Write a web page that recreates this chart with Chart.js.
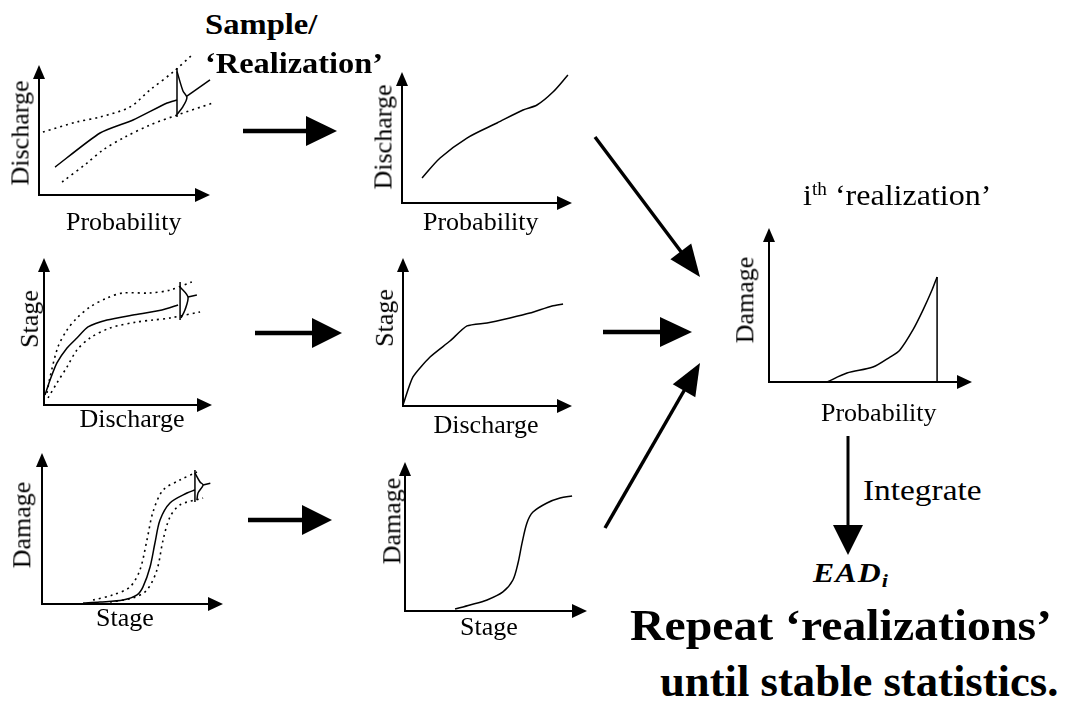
<!DOCTYPE html>
<html>
<head>
<meta charset="utf-8">
<script src="https://cdn.jsdelivr.net/npm/chart.js@4.4.1/dist/chart.umd.min.js"></script>
<style>
body { margin: 0; background: #fff; }
#page { position: relative; width: 1065px; height: 721px; overflow: hidden;
  font-family: "Liberation Serif", "Times New Roman", serif; color: #000; }
.t { position: absolute; white-space: nowrap; line-height: 1; transform-origin: 0 0; }
.ax { position: absolute; white-space: nowrap; line-height: 1; font-size: 26px; }
canvas { position: absolute; }
svg { position: absolute; left: 0; top: 0; }
</style>
</head>
<body>
<div id="page">
  <svg id="arrows" width="1065" height="721"></svg>
</div>
<script>
// curves, in percent of each little axis box (0,0 = origin, 100,100 = arrow tips)
const qpMid   = [[9.4,21.5],[35.7,47.7],[55,57.7],[74.9,70.8],[80.7,73.1]];
const qpUpper = [[2.3,48.5],[22.2,56.2],[35.7,60],[53.2,67.7],[64.9,80.8],[78.4,94.6],[89.5,107.7]];
const qpLower = [[13.5,10],[28.1,24.6],[37.4,34.6],[50.3,44.6],[64.9,53.8],[80.7,61.5],[101.8,70.8]];
const qpBar   = [[80.7,97.7],[80.7,60]];
const qpPdf   = [[80.7,95],[84.2,80],[86.5,75],[84.2,68],[80.7,62]];
const qpPick  = [[86.5,76],[100,88.5]];
const qpReal  = [[11.8,19.1],[22.4,34.4],[38.2,49.6],[55.9,61.1],[71.2,71],[79.4,74.8],[88.8,84.7],[97.6,97.7]];

const sqMid   = [[0.6,6.8],[3.6,17],[7.7,28.6],[13.7,38.8],[19.6,45.6],[26.2,53.1],[37.5,57.8],[53,61.2],[70.2,64.6],[79.8,68]];
const sqUpper = [[1.8,8.2],[3.6,19],[8.3,39.5],[13.7,51],[19.6,59.2],[27.4,66.7],[37.5,72.8],[47,76.2],[63,76.2],[75,78.2],[88,83.7]];
const sqLower = [[2.4,4.8],[7.7,15],[13.7,25.9],[19.6,37.4],[27.4,45.6],[39.3,52.4],[55.4,56.5],[64.9,57.8],[75,59.2],[92.9,63.3]];
const sqBar   = [[81,83.7],[81,57.8]];
const sqPdf   = [[81,80.3],[85.7,73.5],[83.9,64.6],[81.5,59.2]];
const sqPick  = [[85.7,73.5],[91,74.8]];
const sqReal  = [[0,0.7],[5.9,19.6],[16,33.1],[27.8,43.9],[37.9,54.1],[49.7,56.1],[63.3,59.5],[75.1,62.8],[88.2,67.6],[94.7,68.9]];

const dsMid   = [[22.7,0.7],[32,1.3],[44.8,2.6],[52.5,6],[55.8,11.3],[59.7,24.5],[62.4,40.4],[65.2,55.6],[70.7,66.9],[80.1,73.5],[84.5,75.5]];
const dsUpper = [[28.2,2.6],[39.2,6],[48.6,11.3],[54.1,22.5],[58,42.4],[61.3,60.9],[66.9,75.5],[76.2,82.1],[85.6,87.4]];
const dsLower = [[37.6,1.3],[50.3,4],[58,9.3],[63.5,22.5],[66.9,42.4],[70.7,57.6],[76.2,65.6],[89,70.2]];
const dsBar   = [[84.5,88.7],[84.5,67.5]];
const dsPdf   = [[84.5,86.8],[87.3,80.8],[89,78.8],[86.2,73.5],[85.6,68.9]];
const dsPick  = [[89,78.8],[93,80]];
const dsReal  = [[27.5,1.3],[35.7,4],[45.1,7.4],[53.8,12.8],[59.3,20.8],[62.1,32.2],[64.3,45.6],[67,59.1],[70.3,66.4],[78,72.5],[85.2,75.8],[91.8,77.2]];

const dpReal  = [[28.6,0],[38.4,5.8],[51.2,9.7],[59.6,16.2],[64.5,20.8],[70.9,33.8],[75.9,46.8],[80.3,59.7],[82.8,68.2]];
const dpEdge  = [[82.8,68.2],[82.8,0]];

const axisNames = ['Probability', 'Discharge', 'Stage', 'Damage'];

const page = document.getElementById('page');

// draws the two axes with filled arrow heads
const axisArrows = {
  id: 'axisArrows',
  beforeDatasetsDraw(chart) {
    const {ctx, chartArea: a} = chart;
    ctx.save();
    ctx.strokeStyle = '#000';
    ctx.fillStyle = '#000';
    ctx.lineWidth = 2;
    ctx.beginPath();
    ctx.moveTo(a.left, a.top + 12);
    ctx.lineTo(a.left, a.bottom);
    ctx.lineTo(a.right - 12, a.bottom);
    ctx.stroke();
    ctx.beginPath();
    ctx.moveTo(a.right - 15, a.bottom - 7);
    ctx.lineTo(a.right, a.bottom);
    ctx.lineTo(a.right - 15, a.bottom + 7);
    ctx.fill();
    ctx.beginPath();
    ctx.moveTo(a.left - 6, a.top + 14);
    ctx.lineTo(a.left, a.top);
    ctx.lineTo(a.left + 6, a.top + 14);
    ctx.fill();
    ctx.restore();
  }
};

function line(pts, dashed, tension) {
  return {
    data: pts.map(p => ({x: p[0], y: p[1]})),
    borderColor: '#000',
    borderWidth: dashed ? 1.6 : 1.5,
    borderDash: dashed ? [2, 4] : [],
    tension: tension === undefined ? 0.3 : tension,
    fill: false,
    clip: false,
    pointRadius: 0
  };
}

function miniChart(box, datasets) {
  const P = 24;
  const c = document.createElement('canvas');
  c.width = box.tipX - box.ox + 2 * P;
  c.height = box.oy - box.tipY + 2 * P;
  c.style.left = (box.ox - P) + 'px';
  c.style.top = (box.tipY - P) + 'px';
  page.appendChild(c);
  new Chart(c, {
    type: 'line',
    data: {datasets: datasets},
    options: {
      responsive: false,
      animation: false,
      layout: {padding: P},
      plugins: {legend: {display: false}, tooltip: {enabled: false}},
      scales: {
        x: {type: 'linear', min: 0, max: 100, display: false},
        y: {type: 'linear', min: 0, max: 100, display: false}
      }
    },
    plugins: [axisArrows]
  });
}

function axisLabel(text, cx, cy, rotate) {
  const el = document.createElement('div');
  el.className = 'ax';
  el.textContent = text;
  page.appendChild(el);
  const w = el.offsetWidth, h = el.offsetHeight;
  el.style.left = (cx - w / 2) + 'px';
  el.style.top = (cy - h / 2) + 'px';
  if (rotate) el.style.transform = 'rotate(-90deg)';
}

function text(html, left, baseline, size, style, width) {
  const el = document.createElement('div');
  el.className = 't';
  el.innerHTML = html;
  el.style.fontSize = size + 'px';
  if (style) el.style.cssText += style;
  page.appendChild(el);
  el.style.left = left + 'px';
  el.style.top = (baseline - 0.84 * size) + 'px';
  if (width) el.style.transform = 'scaleX(' + (width / el.offsetWidth) + ')';
}

// row 1: discharge-probability
miniChart({ox: 39, oy: 195, tipX: 210, tipY: 65}, [
  line(qpMid, false, 0.2), line(qpUpper, true), line(qpLower, true),
  line(qpBar, false, 0), line(qpPdf, false, 0.3), line(qpPick, false, 0)
]);
axisLabel(axisNames[1], 20, 133, true);
axisLabel(axisNames[0], 124, 222);

miniChart({ox: 402, oy: 203, tipX: 572, tipY: 72}, [line(qpReal, false, 0.3)]);
axisLabel(axisNames[1], 383, 137, true);
axisLabel(axisNames[0], 481, 222);

// row 2: stage-discharge
miniChart({ox: 44, oy: 405, tipX: 212, tipY: 258}, [
  line(sqMid, false, 0.2), line(sqUpper, true), line(sqLower, true),
  line(sqBar, false, 0), line(sqPdf, false, 0.3), line(sqPick, false, 0)
]);
axisLabel(axisNames[2], 30, 319, true);
axisLabel(axisNames[1], 132, 419);

miniChart({ox: 403, oy: 406, tipX: 572, tipY: 258}, [line(sqReal, false, 0.2)]);
axisLabel(axisNames[2], 385, 318, true);
axisLabel(axisNames[1], 486, 425);

// row 3: damage-stage
miniChart({ox: 42, oy: 604, tipX: 223, tipY: 453}, [
  line(dsMid, false, 0.3), line(dsUpper, true), line(dsLower, true),
  line(dsBar, false, 0), line(dsPdf, false, 0.3), line(dsPick, false, 0)
]);
axisLabel(axisNames[3], 22, 525, true);
axisLabel(axisNames[2], 125, 618);

miniChart({ox: 405, oy: 611, tipX: 587, tipY: 462}, [line(dsReal, false, 0.3)]);
axisLabel(axisNames[3], 392, 521, true);
axisLabel(axisNames[2], 489, 627);

// result: damage-probability
miniChart({ox: 769, oy: 382, tipX: 972, tipY: 228}, [line(dpReal, false, 0.3), line(dpEdge, false, 0)]);
axisLabel(axisNames[3], 745, 300, true);
axisLabel(axisNames[0], 879, 413);

// block arrows
const svg = document.getElementById('arrows');
function arrow(x1, y1, x2, y2, lw, len, half) {
  const dx = x2 - x1, dy = y2 - y1, d = Math.hypot(dx, dy);
  const ux = dx / d, uy = dy / d;
  const bx = x2 - ux * len, by = y2 - uy * len;
  const ns = 'http://www.w3.org/2000/svg';
  const l = document.createElementNS(ns, 'line');
  l.setAttribute('x1', x1); l.setAttribute('y1', y1);
  l.setAttribute('x2', bx + ux * 2); l.setAttribute('y2', by + uy * 2);
  l.setAttribute('stroke', '#000'); l.setAttribute('stroke-width', lw);
  svg.appendChild(l);
  const p = document.createElementNS(ns, 'polygon');
  p.setAttribute('points', [
    [x2, y2], [bx - uy * half, by + ux * half], [bx + uy * half, by - ux * half]
  ].map(q => q.join(',')).join(' '));
  p.setAttribute('fill', '#000');
  svg.appendChild(p);
}
arrow(243, 131, 337, 131, 4.5, 31, 15);
arrow(255, 333, 342, 333, 4.5, 30, 15);
arrow(248, 520, 332, 520, 4.5, 30, 15);
arrow(603, 332, 692, 332, 4.5, 32, 15);
arrow(595, 137, 700, 277, 3.5, 32, 13);
arrow(605, 528, 700, 363, 3.5, 32, 13);
arrow(848, 436, 848, 555, 3, 30, 15);

// words
text('Sample/', 205, 34, 30, 'font-weight:bold;', 112);
text('\u2018Realization\u2019', 205, 73, 30, 'font-weight:bold;', 178);
text('i<sup style="font-size:0.6em;vertical-align:0.55em;">th</sup> \u2018realization\u2019', 803, 205, 30, '', 188);
text('Integrate', 863, 500, 30, '', 119);
text('EAD<sub style="font-size:0.7em;vertical-align:-0.25em;">i</sub>', 813, 583, 28, 'font-weight:bold;font-style:italic;letter-spacing:1px;', 76);
text('Repeat \u2018realizations\u2019', 630, 641, 44, 'font-weight:bold;', 422);
text('until stable statistics.', 660, 697, 44, 'font-weight:bold;', 398);
</script>
</body>
</html>
